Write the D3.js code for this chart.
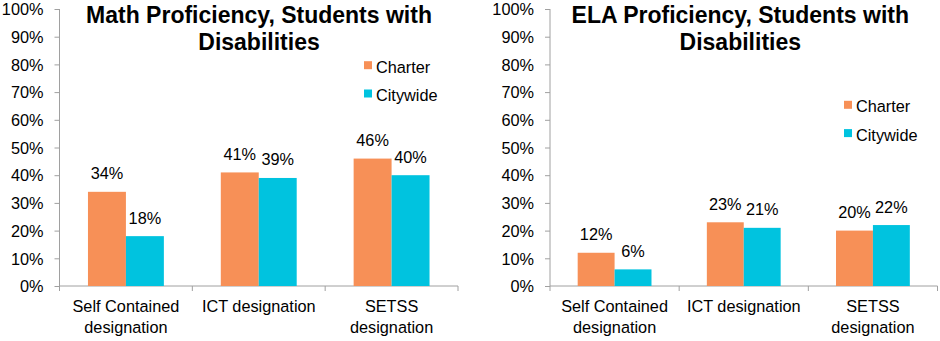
<!DOCTYPE html>
<html><head><meta charset="utf-8">
<script src="https://cdn.jsdelivr.net/npm/d3@7"></script>
<style>
html,body{margin:0;padding:0;background:#fff;}
svg{display:block;font-family:"Liberation Sans",Arial,sans-serif;}
</style></head>
<body><svg id="c" width="940" height="341"></svg>
<script>
const categories = [["Self Contained","designation"],["ICT designation"],["SETSS","designation"]];
const seriesNames = ["Charter","Citywide"];
const colors = ["#F79057","#00C3DF"];
const mathCharter = [34,41,46];
const mathCitywide = [18,39,40];
const elaCharter = [12,23,20];
const elaCitywide = [6,21,22];
const yTicks = [0,10,20,30,40,50,60,70,80,90,100];
const titleMath = ["Math Proficiency, Students with","Disabilities"];
const titleEla = ["ELA Proficiency, Students with","Disabilities"];

const svg = d3.select("#c");
const grey = "#A0A0A0";
const fs = 16.3;

function panel(cfg){
  const g = svg.append("g");
  const y = d3.scaleLinear().domain([0,100]).range([286,9]);
  const x0 = d3.scaleBand().domain(d3.range(categories.length)).range([cfg.x0,cfg.x1]).padding(0);
  const x1 = d3.scaleBand().domain([0,1]).range([0,x0.bandwidth()]).paddingInner(0).paddingOuter(0.75);

  // y axis
  const ya = g.append("g").attr("transform",`translate(${cfg.x0},0)`)
    .call(d3.axisLeft(y).tickValues(yTicks).tickSize(5).tickPadding(11).tickFormat(d=>d+"%"));
  ya.select(".domain").attr("stroke",grey).attr("d",`M0,${y(0)}V${y(100)}`);
  ya.selectAll(".tick line").attr("stroke",grey);
  ya.selectAll(".tick text").attr("font-size",fs).attr("fill","#000").attr("font-family","Liberation Sans, Arial, sans-serif").attr("dy","0.35em").attr("x",-16);

  // x axis line + boundary ticks
  g.append("line").attr("x1",cfg.x0).attr("x2",cfg.x1).attr("y1",y(0)).attr("y2",y(0)).attr("stroke",grey);
  const bounds = d3.range(categories.length+1).map(i=> i<categories.length ? x0(i) : cfg.x1);
  g.selectAll(".bt").data(bounds).join("line").attr("x1",d=>d).attr("x2",d=>d)
    .attr("y1",y(0)).attr("y2",y(0)+5).attr("stroke",grey);

  const data = categories.map((c,i)=>[cfg.a[i],cfg.b[i]]);
  data.forEach((vals,i)=>{
    vals.forEach((v,j)=>{
      const bx = x0(i)+x1(j);
      g.append("rect").attr("x",bx).attr("width",x1.bandwidth()).attr("y",y(v)).attr("height",y(0)-y(v)).attr("fill",colors[j]);
      g.append("text").attr("x",bx+x1.bandwidth()/2).attr("y",y(v)-12.5).attr("text-anchor","middle")
        .attr("font-size",fs).text(v+"%");
    });
    const t = g.append("text").attr("x",x0(i)+x0.bandwidth()/2).attr("y",312).attr("text-anchor","middle").attr("font-size",fs);
    categories[i].forEach((ln,k)=>t.append("tspan").attr("x",x0(i)+x0.bandwidth()/2).attr("y",312+k*20.5).text(ln));
  });

  // title
  const tt = g.append("text").attr("text-anchor","middle").attr("font-size",23).attr("font-weight","bold");
  cfg.title.forEach((ln,k)=>tt.append("tspan").attr("x",cfg.tx).attr("y",22.7+k*27.3).text(ln));

  // legend
  seriesNames.forEach((s,j)=>{
    const ly = cfg.ly + j*28.3;
    g.append("rect").attr("x",cfg.lx).attr("y",ly-11.5).attr("width",8).attr("height",8).attr("fill",colors[j]);
    g.append("text").attr("x",cfg.lx+12).attr("y",ly).attr("font-size",fs).text(s);
  });
}

panel({x0:59.5,x1:458,a:mathCharter,b:mathCitywide,title:titleMath,tx:259,lx:364,ly:72.7});
panel({x0:550,x1:937.5,a:elaCharter,b:elaCitywide,title:titleEla,tx:740.3,lx:844,ly:112.3});
</script></body></html>
